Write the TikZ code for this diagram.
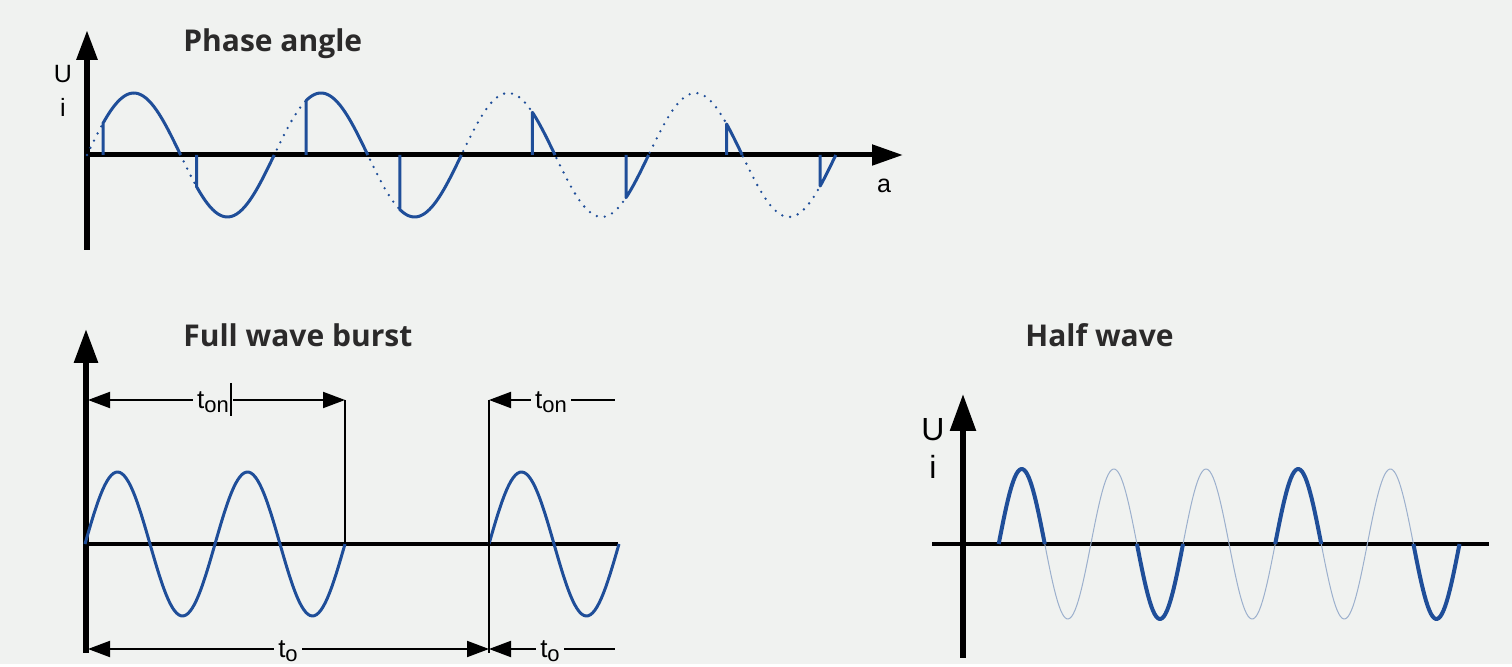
\documentclass[tikz,border=0pt]{standalone}
\usepackage{fontspec}
\setmainfont{Liberation Sans}
\newfontfamily\titlefont{Open Sans}
\usetikzlibrary{arrows.meta}
\definecolor{bg}{HTML}{F0F2F0}
\definecolor{wave}{HTML}{1F4E99}
\definecolor{title}{HTML}{2B2A2A}
\newcommand\lowsub[1]{\raisebox{-2pt}{\fontsize{11}{11}\selectfont #1}}

\begin{document}
\begin{tikzpicture}[x=0.5pt,y=-0.5pt,
    ttl/.style={font=\titlefont\bfseries\fontsize{15}{16}\selectfont, text=title, anchor=base west, inner sep=0pt},
    lbl/.style={font=\fontsize{12.5}{13}\selectfont, inner sep=0pt},
    wave/.style={draw=wave, line width=1.5pt, line join=round},
    dots/.style={draw=wave, line width=1.3pt, line cap=round, dash pattern=on 0pt off 4pt},
    ghost/.style={draw=wave!40!bg, line width=0.5pt},
    dimline/.style={line width=1pt},
    dimtip/.style={-{Triangle[length=11pt,width=8pt]}},
    dimlbl/.style={font=\fontsize{13}{13}\selectfont, inner sep=2pt, anchor=base}
  ]
  \fill[bg] (0,0) rectangle (1512,664);

  % Phase angle
  \node[ttl] (pt) at (183,52) {Phase angle};
  \coordinate (p0) at (87,155);
  \coordinate (pyb) at (87,250);
  \coordinate (pyt) at (87,30);
  \coordinate (pxe) at (903,155);
  \draw[line width=3pt,-{Triangle[length=15pt,width=10pt]}] (pyb) -- (pyt);
  \draw[line width=2.5pt,-{Triangle[length=15.5pt,width=10pt]}] (p0) -- (pxe);
  \node[lbl] (pu) at (63,74) {U};
  \node[lbl] (pi) at (63,107) {i};
  \node[lbl] (pa) at (884,186) {a};
  \draw[dots] plot[domain=87:835.8, samples=240] (\x,{155-62*sin((\x-87)/93.6*180)});
  \foreach \k/\f in {0/16,1/16,2/32,3/32,4/71,5/71,6/78,7/78}{
    \pgfmathsetmacro\xf{87+\k*93.6+\f}
    \pgfmathsetmacro\xe{87+(\k+1)*93.6}
    \draw[wave] (\xf,155) -- plot[domain=\xf:\xe, samples=30] (\x,{155-62*sin((\x-87)/93.6*180)});
  }

  % Full wave burst
  \node[ttl] (ft) at (183,347) {Full wave burst};
  \coordinate (f0) at (84,544);
  \coordinate (fyb) at (86,653);
  \coordinate (fyt) at (86,329);
  \coordinate (fxe) at (618,544);
  \draw[line width=3pt,-{Triangle[length=17pt,width=11.5pt]}] (fyb) -- (fyt);
  \draw[line width=1.75pt] (f0) -- (fxe);
  \draw[wave] plot[domain=85:345, samples=120] (\x,{544-72*sin((\x-85)/65*180)});
  \draw[wave] plot[domain=489:619, samples=60] (\x,{544-72*sin((\x-489)/65*180)});
  \coordinate (a1) at (88,400);
  \coordinate (a2) at (345,400);
  \coordinate (a3) at (489,400);
  \coordinate (a4) at (615,400);
  \coordinate (b1) at (88,649);
  \coordinate (b2) at (489,649);
  \coordinate (b3) at (615,649);
  \coordinate (v1) at (345,544);
  \coordinate (v2) at (489,653);
  \draw[dimline] (a2) -- (v1);
  \draw[dimline] (a3) -- (v2);
  \node[dimlbl] (ton1) at (213,409) {t\lowsub{on}};
  \node[dimlbl] (ton2) at (551,409) {t\lowsub{on}};
  \node[dimlbl] (to1) at (288,658) {t\lowsub{o}};
  \node[dimlbl] (to2) at (550,658) {t\lowsub{o}};
  \draw[dimline,dimtip] (a1 -| ton1.west) -- (a1);
  \draw[dimline,dimtip] (a1 -| ton1.east) -- (a2);
  \draw[dimline] (231,383) -- (231,416);
  \draw[dimline,dimtip] (a3 -| ton2.west) -- (a3);
  \draw[dimline] (a3 -| ton2.east) -- (a4);
  \draw[dimline,dimtip] (b1 -| to1.west) -- (b1);
  \draw[dimline,dimtip] (b1 -| to1.east) -- (b2);
  \draw[dimline,dimtip] (b2 -| to2.west) -- (b2);
  \draw[dimline] (b2 -| to2.east) -- (b3);

  % Half wave
  \node[ttl] (ht) at (1025,347) {Half wave};
  \coordinate (h0) at (932,544);
  \coordinate (hyb) at (963,658);
  \coordinate (hyt) at (963,394);
  \coordinate (hxe) at (1489,544);
  \draw[line width=2.8pt,-{Triangle[length=18.5pt,width=12.5pt]}] (hyb) -- (hyt);
  \draw[line width=2pt] (h0) -- (hxe);
  \node[lbl,font=\fontsize{16}{16}\selectfont] (hu) at (933,430) {U};
  \node[lbl,font=\fontsize{16}{16}\selectfont] (hi) at (933,467) {i};
  \foreach \k in {1,2,4,5,7,8}{
    \pgfmathsetmacro\xs{998.7+\k*46.08}
    \pgfmathsetmacro\xe{998.7+(\k+1)*46.08}
    \draw[ghost] plot[domain=\xs:\xe, samples=30] (\x,{544-75*sin((\x-998.7)/46.08*180)});
  }
  \foreach \k in {0,3,6,9}{
    \pgfmathsetmacro\xs{998.7+\k*46.08}
    \pgfmathsetmacro\xe{998.7+(\k+1)*46.08}
    \draw[wave,line width=2pt] plot[domain=\xs:\xe, samples=30] (\x,{544-75*sin((\x-998.7)/46.08*180)});
  }
\end{tikzpicture}
\end{document}
